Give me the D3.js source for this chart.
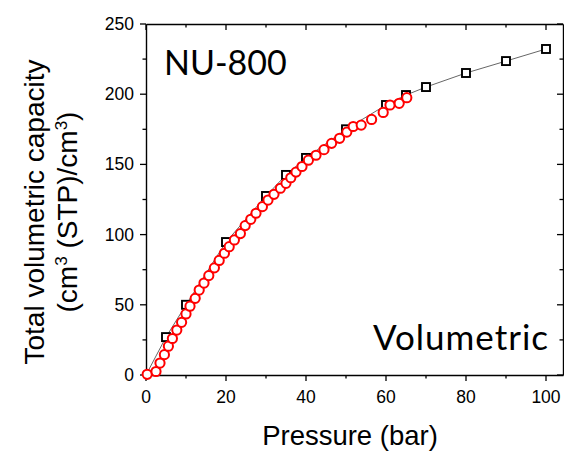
<!DOCTYPE html>
<html>
<head>
<meta charset="utf-8">
<script src="https://cdn.jsdelivr.net/npm/d3@7"></script>
<style>
  body { margin: 0; background: #fff; }
  svg { display: block; }
</style>
</head>
<body>
<script>
// simulated total volumetric capacity (squares + line)
var simP = [0, 5, 10, 20, 30, 35, 40, 50, 60, 65, 70, 80, 90, 100];
var simV = [0, 27, 50, 94.7, 127.5, 142.5, 154.6, 175, 192.3, 199.4, 205.1, 215.1, 223.6, 232.2];
// experimental isotherm (red circles)
var expP = [0.3, 2.5, 3.5, 4.6, 5.6, 6.6, 7.7, 8.9, 10, 11, 12.3, 13.3, 14.5, 15.7, 17.1, 18.3,
            19.6, 20.8, 22.1, 23.6, 24.8, 26.2, 27.5, 29.1, 30.5, 32, 33.6, 35, 36.2, 37.5,
            39, 40.6, 42.5, 44.5, 46.4, 48.4, 50.2, 51.8, 53.8, 56.4, 59.3, 61, 63.3, 65.2];
var expV = [0.5, 2.5, 8.5, 14.5, 20.5, 26, 32, 37.5, 43.5, 49, 54.6, 60.5, 65.5, 70.8, 76.3, 81.6,
            86.7, 91.4, 96.2, 100.7, 106.4, 110.9, 115.2, 119.9, 124.6, 128.7, 133, 136.5, 140.5, 144.5,
            148.5, 153, 156.5, 160.5, 165, 168.6, 173, 177, 178, 182, 187, 192.3, 193.5, 197.5];
var xTicks = [0, 20, 40, 60, 80, 100];
var yTicks = [0, 50, 100, 150, 200, 250];

var W = 564, H = 452;
var pLeft = 146, pRight = 563, pTop = 24, pBottom = 375;

var x = d3.scaleLinear().domain([0, 104.25]).range([pLeft, pRight]);
var y = d3.scaleLinear().domain([0, 250]).range([pBottom, pTop]);

var svg = d3.select('body').append('svg')
    .attr('width', W).attr('height', H);
svg.append('rect').attr('width', W).attr('height', H).attr('fill', '#fff');

var tickFont = '"Liberation Sans", Arial, sans-serif';

var minorX = d3.range(0, 105, 10);
var minorY = d3.range(0, 251, 25);

function styleAxis(g) {
    g.select('.domain').attr('stroke', '#000').attr('stroke-width', 1.4);
}
function xTickMarks(g) {
    g.selectAll('.mt').data(minorX).enter().append('line')
        .attr('x1', function (d) { return x(d); }).attr('x2', function (d) { return x(d); })
        .attr('y1', 0).attr('y2', function (d) { return d % 20 === 0 ? 6 : 3.5; })
        .attr('stroke', '#000').attr('stroke-width', 1.3);
}
function yTickMarks(g) {
    g.selectAll('.mt').data(minorY).enter().append('line')
        .attr('y1', function (d) { return y(d); }).attr('y2', function (d) { return y(d); })
        .attr('x1', 0).attr('x2', function (d) { return d % 50 === 0 ? -6 : -3.5; })
        .attr('stroke', '#000').attr('stroke-width', 1.3);
}

// bottom
var gb = svg.append('g').attr('transform', 'translate(0,' + pBottom + ')');
gb.call(d3.axisBottom(x).tickValues([]).tickSizeOuter(0)).call(styleAxis);
xTickMarks(gb);
gb.selectAll('.lbl').data(xTicks).enter().append('text')
    .attr('x', function (d) { return x(d); }).attr('y', 28)
    .attr('text-anchor', 'middle').attr('fill', '#000')
    .style('font-family', tickFont).style('font-size', '17.5px')
    .text(function (d) { return d; });

// top
var gt = svg.append('g').attr('transform', 'translate(0,' + pTop + ')');
gt.call(d3.axisTop(x).tickValues([]).tickSizeOuter(0)).call(styleAxis);
xTickMarks(gt);

// left
var gl = svg.append('g').attr('transform', 'translate(' + pLeft + ',0)');
gl.call(d3.axisLeft(y).tickValues([]).tickSizeOuter(0)).call(styleAxis);
yTickMarks(gl);
gl.selectAll('.lbl').data(yTicks).enter().append('text')
    .attr('x', -12).attr('y', function (d) { return y(d) + 6; })
    .attr('text-anchor', 'end').attr('fill', '#000')
    .style('font-family', tickFont).style('font-size', '17.5px')
    .text(function (d) { return d; });

// right
var gr = svg.append('g').attr('transform', 'translate(' + pRight + ',0)');
gr.call(d3.axisRight(y).tickValues([]).tickSizeOuter(0)).call(styleAxis);
yTickMarks(gr);

// simulated line + squares
var simData = simP.map(function (p, i) { return { p: p, v: simV[i] }; });
var line = d3.line().x(function (d) { return x(d.p); }).y(function (d) { return y(d.v); });
svg.append('path').datum(simData)
    .attr('d', line).attr('fill', 'none')
    .attr('stroke', '#555').attr('stroke-width', 0.9);
var sq = 8;
svg.selectAll('.sq').data(simData.slice(1)).enter().append('rect')
    .attr('x', function (d) { return x(d.p) - sq / 2; })
    .attr('y', function (d) { return y(d.v) - sq / 2; })
    .attr('width', sq).attr('height', sq)
    .attr('fill', '#fff').attr('stroke', '#000').attr('stroke-width', 1.9);

// experimental circles
var expData = expP.map(function (p, i) { return { p: p, v: expV[i] }; });
svg.selectAll('.ci').data(expData).enter().append('circle')
    .attr('cx', function (d) { return x(d.p); })
    .attr('cy', function (d) { return y(d.v); })
    .attr('r', 4.6)
    .attr('fill', '#fff').attr('stroke', '#ff0000').attr('stroke-width', 2);

// annotations
var annFont = 'Lato, "Open Sans", sans-serif';
svg.append('text').attr('x', 164).attr('y', 75).attr('fill', '#000')
    .style('font-family', annFont).style('font-size', '34px')
    .text('NU-800');
svg.append('text').attr('x', 373).attr('y', 350).attr('fill', '#000')
    .attr('textLength', 175).attr('lengthAdjust', 'spacing')
    .style('font-family', annFont).style('font-size', '35px')
    .text('Volumetric');

// axis titles
var titleFont = '"Liberation Sans", Arial, sans-serif';
svg.append('text').attr('x', 350).attr('y', 445).attr('text-anchor', 'middle').attr('fill', '#000')
    .style('font-family', titleFont).style('font-size', '27.5px')
    .text('Pressure (bar)');

var yt = svg.append('text')
    .attr('transform', 'translate(44,212) rotate(-90)')
    .attr('text-anchor', 'middle').attr('fill', '#000')
    .style('font-family', titleFont).style('font-size', '28px');
yt.append('tspan').attr('x', 0).attr('y', 0).text('Total volumetric capacity');
var l2 = yt.append('tspan').attr('x', 0).attr('y', 33);
l2.append('tspan').text('(cm');
l2.append('tspan').attr('dy', -10).style('font-size', '17px').text('3');
l2.append('tspan').attr('dy', 10).text(' (STP)/cm');
l2.append('tspan').attr('dy', -10).style('font-size', '17px').text('3');
l2.append('tspan').attr('dy', 10).text(')');
</script>
</body>
</html>
